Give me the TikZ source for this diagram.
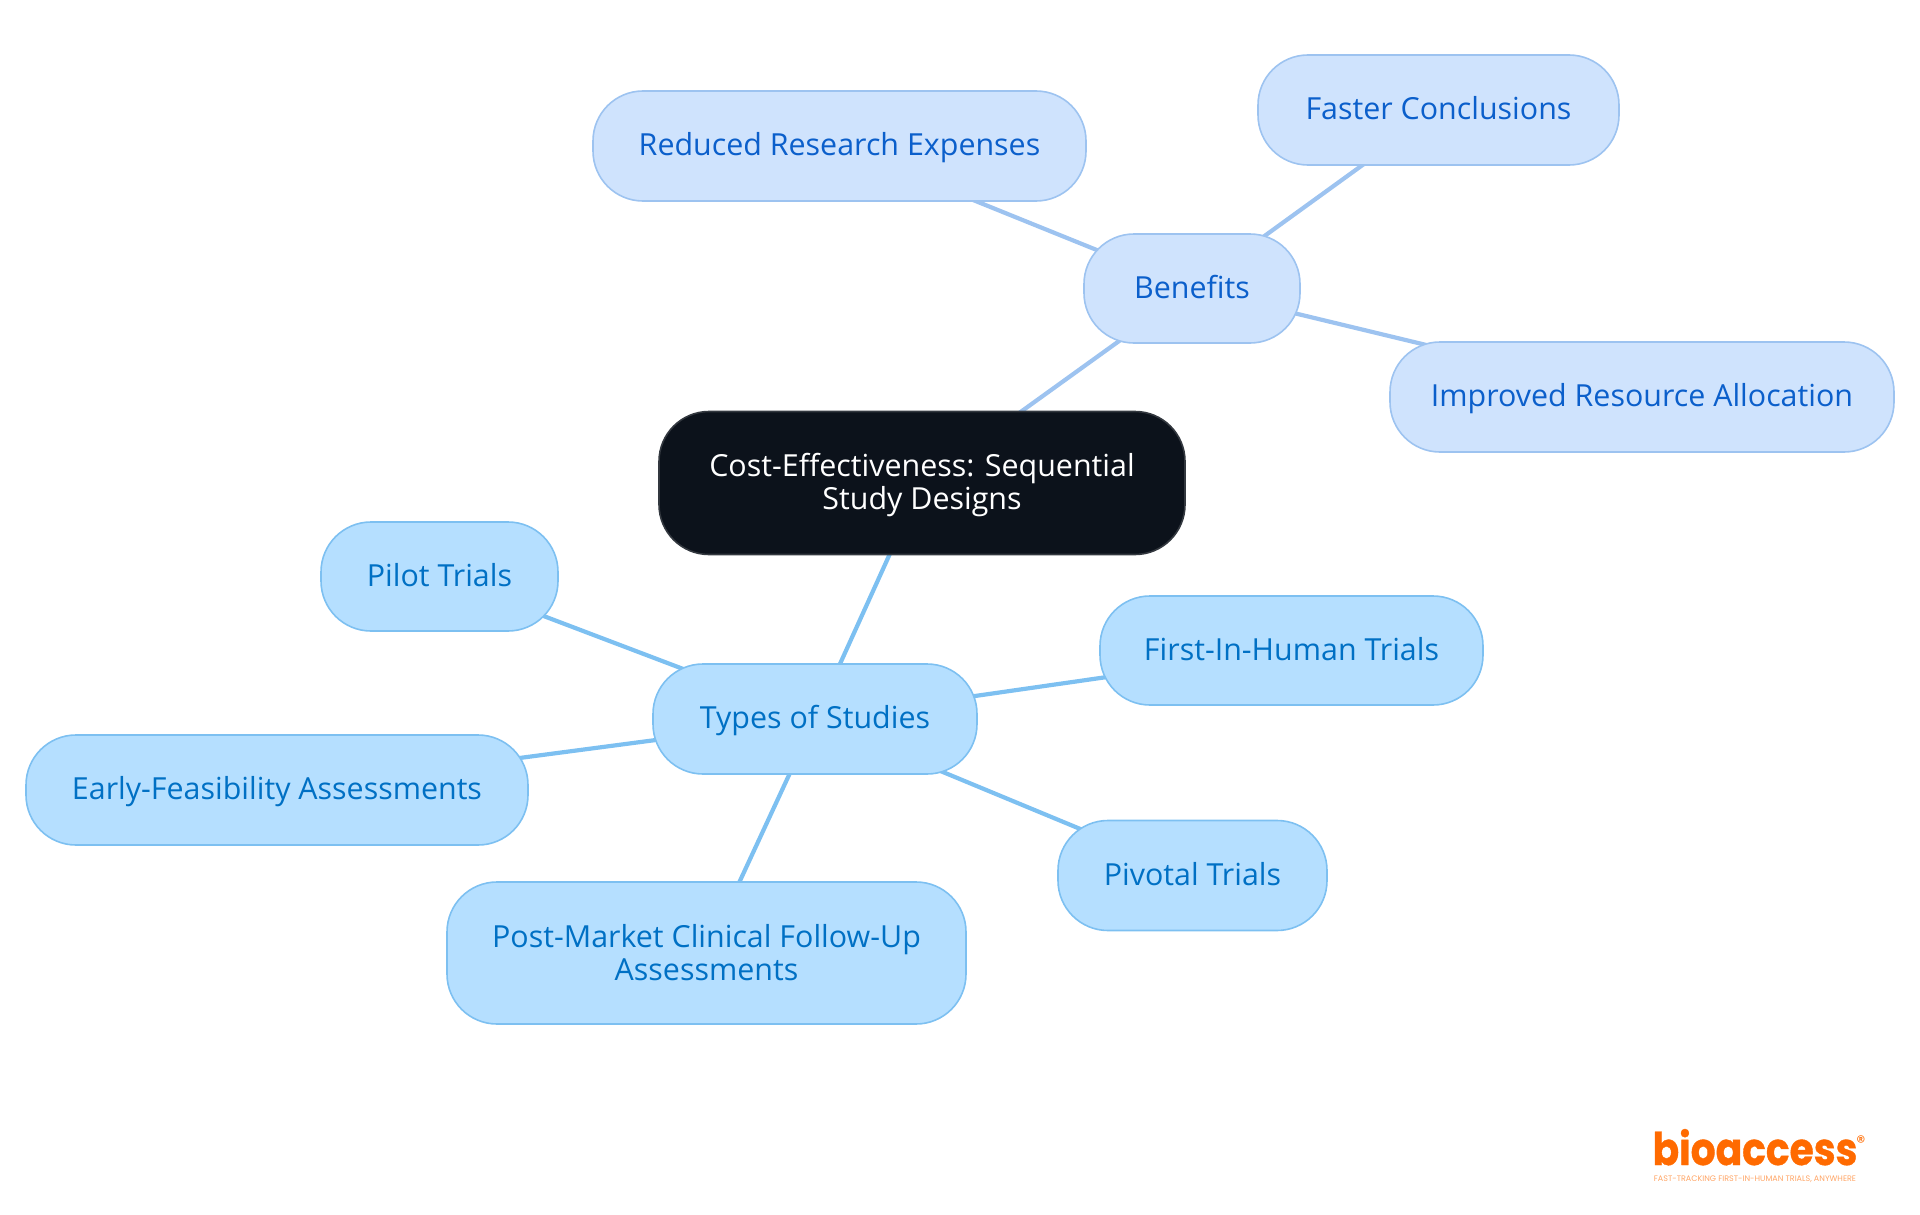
\documentclass[tikz,border=0pt]{standalone}
\usepackage{fontspec}
\setmainfont{Open Sans}
\newfontfamily\logofont[FakeStretch=0.87,BoldFeatures={FakeBold=0.8}]{Poppins}
\newfontfamily\logosmall{Poppins}
\usetikzlibrary{backgrounds}
\definecolor{skyfill}{HTML}{B5DFFF}
\definecolor{skyline}{HTML}{7DC0F1}
\definecolor{skytext}{HTML}{0070C4}
\definecolor{palefill}{HTML}{CFE3FD}
\definecolor{paleline}{HTML}{9DC3F0}
\definecolor{paletext}{HTML}{0B5FCB}
\definecolor{rootfill}{HTML}{0C121B}
\definecolor{rootline}{HTML}{33383F}
\definecolor{logoorange}{HTML}{FF6A00}
\newcommand{\lsone}{\rule[-6.6pt]{0pt}{33pt}}
\newcommand{\lstwo}{\rule[-5.5pt]{0pt}{33pt}}
\newcommand{\boxfont}{\fontsize{30.4}{33}\selectfont\setlength{\lineskiplimit}{-20pt}}
\tikzset{
  x=1pt,y=-1pt,
  box/.style={rectangle,rounded corners=50pt,line width=1.6pt,inner sep=0pt,align=center,font=\boxfont},
  sky/.style={box,fill=skyfill,draw=skyline,text=skytext},
  pale/.style={box,fill=palefill,draw=paleline,text=paletext},
  rootbox/.style={box,fill=rootfill,draw=rootline,text=white},
  skylink/.style={draw=skyline,line width=4.2pt},
  palelink/.style={draw=paleline,line width=4.2pt}
}
\begin{document}
\begin{tikzpicture}
\useasboundingbox (0,0) rectangle (1920,1215);
\node[rootbox,minimum width=526pt,minimum height=143pt] (root) at (922,483) {\lstwo Cost-Effectiveness: Sequential\\\lstwo Study Designs};
\node[pale,minimum width=216pt,minimum height=109pt] (benefits) at (1192,288.5) {\lsone Benefits};
\node[pale,minimum width=493pt,minimum height=110pt] (reduced) at (839.5,146) {\lsone Reduced Research Expenses};
\node[pale,minimum width=361pt,minimum height=110pt] (faster) at (1438.5,110) {\lsone Faster Conclusions};
\node[pale,minimum width=504pt,minimum height=110pt] (improved) at (1642,397) {\lsone Improved Resource Allocation};
\node[sky,minimum width=324pt,minimum height=110pt] (types) at (815,719) {\lsone Types of Studies};
\node[sky,minimum width=237pt,minimum height=109pt] (pilot) at (439.5,576.5) {\lsone Pilot Trials};
\node[sky,minimum width=383pt,minimum height=109pt] (first) at (1291.5,650.5) {\lsone First-In-Human Trials};
\node[sky,minimum width=502pt,minimum height=110pt] (early) at (277,790) {\lsone Early-Feasibility Assessments};
\node[sky,minimum width=269pt,minimum height=110pt] (pivotal) at (1192.5,875.5) {\lsone Pivotal Trials};
\node[sky,minimum width=519pt,minimum height=142pt] (post) at (706.5,953) {\lstwo Post-Market Clinical Follow-Up\\\lstwo Assessments};
\begin{scope}[on background layer]
\draw[palelink] (root.center) -- (benefits.center);
\draw[palelink] (benefits.center) -- (reduced.center);
\draw[palelink] (benefits.center) -- (faster.center);
\draw[palelink] (benefits.center) -- (improved.center);
\draw[skylink] (root.center) -- (types.center);
\draw[skylink] (types.center) -- (pilot.center);
\draw[skylink] (types.center) -- (first.center);
\draw[skylink] (types.center) -- (early.center);
\draw[skylink] (types.center) -- (pivotal.center);
\draw[skylink] (types.center) -- (post.center);
\end{scope}
\node[inner sep=0pt,text=logoorange,anchor=base,font=\logofont\bfseries\fontsize{45}{45}\selectfont] (logo) at (1755,1165) {bioaccess};
\node[inner sep=0pt,text=logoorange,font=\logosmall\fontsize{18}{18}\selectfont] (reg) at (1861,1142) {®};
\node[inner sep=0pt,text=logoorange!60,font=\logosmall\fontsize{8}{8}\selectfont] (tag) at (1755,1179) {FAST-TRACKING FIRST-IN-HUMAN TRIALS, ANYWHERE};
\end{tikzpicture}
\end{document}
